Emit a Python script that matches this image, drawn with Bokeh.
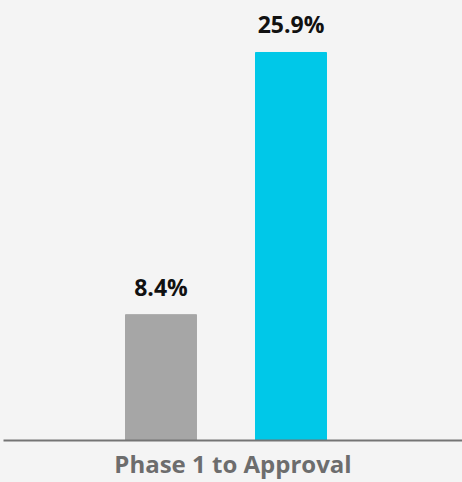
from bokeh.plotting import figure
from bokeh.models import Range1d, ColumnDataSource
from bokeh.core.properties import value
from bokeh.embed import file_html
from bokeh.resources import INLINE

# Data
series = ["Series A", "Series B"]
values = [8.4, 25.9]
labels = ["8.4%", "25.9%"]
colors = ["#a6a6a6", "#00c8e8"]
group_label = "Phase 1 to Approval"

idx = list(range(len(series)))
src = ColumnDataSource(dict(x=idx, top=values, label=labels, color=colors))

BG = "#f4f4f4"
p = figure(width=462, height=482, output_backend="svg", toolbar_location=None,
           x_range=Range1d(-1.2115, 2.3192), y_range=Range1d(0, max(values) * 1.134),
           min_border_left=3, min_border_right=0, min_border_top=0, min_border_bottom=42,
           background_fill_color=BG, border_fill_color=BG, outline_line_color=None)

p.vbar(x="x", top="top", width=0.546, color="color", source=src)
p.text(x="x", y="top", text="label", source=src, text_align="center", text_baseline="middle",
       y_offset=-28, text_font=value("Open Sans"), text_font_style="bold",
       text_font_size="23px", text_color="#111111")

p.xgrid.visible = False
p.ygrid.visible = False
p.yaxis.visible = False
xa = p.xaxis[0]
xa.ticker = []
xa.major_tick_line_color = None
xa.minor_tick_line_color = None
xa.major_tick_out = 0
xa.major_tick_in = 0
xa.minor_tick_out = 0
xa.major_label_text_font_size = "0px"
xa.major_label_standoff = 0
xa.axis_line_color = "#747474"
xa.axis_line_width = 2
xa.axis_label = group_label
xa.axis_label_standoff = 6
xa.axis_label_text_line_height = 1.0
xa.axis_label_text_font = "Open Sans"
xa.axis_label_text_font_style = "bold"
xa.axis_label_text_font_size = "24px"
xa.axis_label_text_color = "#6d6d6d"

html = file_html(p, INLINE)
html = html.replace("</head>", "<style>html,body{margin:0;padding:0;background:#f4f4f4;overflow:hidden}</style></head>", 1)
open("out.html", "w").write(html)
